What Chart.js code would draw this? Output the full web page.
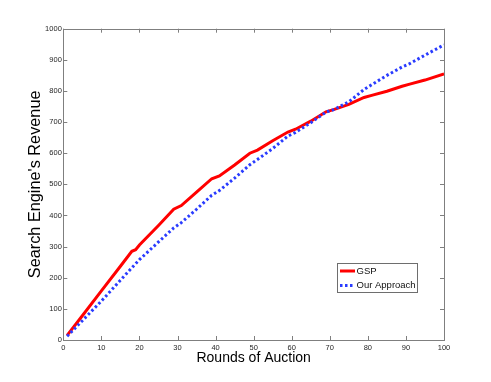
<!DOCTYPE html>
<html>
<head>
<meta charset="utf-8">
<script src="https://cdn.jsdelivr.net/npm/chart.js@4/dist/chart.umd.min.js"></script>
<style>
  html, body { margin: 0; padding: 0; background: #ffffff; }
  #wrap { width: 491px; height: 382px; }
</style>
</head>
<body>
<div id="wrap"><canvas id="c" width="491" height="382"></canvas></div>
<script>
// ---- data ----
const rounds = [1, 5, 10, 15, 18, 19, 20, 25, 29, 31, 35, 39, 41, 45, 49, 51, 55, 59, 61, 65, 69, 71, 75, 79, 81, 85, 89, 91, 95, 100];
const gsp = [15, 78, 158, 237, 285, 290, 305, 368, 420, 432, 475, 518, 527, 562, 600, 610, 640, 668, 677, 703, 733, 740, 757, 779, 786, 799, 815, 822, 835, 855];
const ourApproach = [12, 62, 125, 192, 232, 245, 258, 315, 360, 377, 420, 465, 480, 520, 563, 580, 615, 655, 667, 698, 732, 740, 765, 805, 820, 850, 877, 888, 915, 948];
const xTicks = [0, 10, 20, 30, 40, 50, 60, 70, 80, 90, 100];
const yTicks = [0, 100, 200, 300, 400, 500, 600, 700, 800, 900, 1000];
const seriesNames = ["GSP", "Our Approach"];
const xTitle = "Rounds of Auction";
const yTitle = "Search Engine's Revenue";

const toPts = (xs, ys) => xs.map((x, i) => ({ x: x, y: ys[i] }));

const FRAME = '#7f7f7f';
const RED = '#ff0000';
const BLUE = '#2a3cff';

const framePlugin = {
  id: 'frameTicks',
  afterDraw(chart) {
    const { ctx, chartArea: a, scales } = chart;
    const xs = scales.x, ys = scales.y;
    ctx.save();
    ctx.strokeStyle = FRAME;
    ctx.lineWidth = 1;
    ctx.beginPath();
    const L = 4;
    xTicks.forEach(v => {
      const px = Math.round(xs.getPixelForValue(v)) + 0.5;
      ctx.moveTo(px, a.bottom); ctx.lineTo(px, a.bottom - L);
      ctx.moveTo(px, a.top); ctx.lineTo(px, a.top + L);
    });
    yTicks.forEach(v => {
      const py = Math.round(ys.getPixelForValue(v)) + 0.5;
      ctx.moveTo(a.left, py); ctx.lineTo(a.left + L, py);
      ctx.moveTo(a.right, py); ctx.lineTo(a.right - L, py);
    });
    ctx.stroke();
    ctx.strokeRect(Math.round(a.left) + 0.5, Math.round(a.top) + 0.5,
                   Math.round(a.right - a.left), Math.round(a.bottom - a.top));

    // legend box inside plot area
    const lx = 337.5, ly = 263.5, lw = 80, lh = 29;
    ctx.fillStyle = '#ffffff';
    ctx.fillRect(lx, ly, lw, lh);
    ctx.strokeStyle = '#6e6e6e';
    ctx.strokeRect(lx, ly, lw, lh);
    const rows = [
      { name: seriesNames[0], color: RED, dash: [], y: 271 },
      { name: seriesNames[1], color: BLUE, dash: [2.5, 2.5], y: 285.5 }
    ];
    rows.forEach(r => {
      ctx.save();
      ctx.strokeStyle = r.color;
      ctx.lineWidth = 3;
      ctx.setLineDash(r.dash);
      ctx.beginPath();
      ctx.moveTo(340, r.y); ctx.lineTo(355, r.y);
      ctx.stroke();
      ctx.restore();
      ctx.fillStyle = '#111111';
      ctx.font = '9.5px "Liberation Sans", Arial, sans-serif';
      ctx.textBaseline = 'middle';
      ctx.textAlign = 'left';
      ctx.fillText(r.name, 356.5, r.y);
    });
    ctx.restore();
  }
};

new Chart(document.getElementById('c'), {
  type: 'line',
  data: {
    datasets: [
      {
        label: seriesNames[0],
        data: toPts(rounds, gsp),
        borderColor: RED,
        borderWidth: 3,
        pointRadius: 0,
        tension: 0,
        fill: false,
        order: 1
      },
      {
        label: seriesNames[1],
        data: toPts(rounds, ourApproach),
        borderColor: BLUE,
        borderWidth: 3,
        borderDash: [2.5, 2.5],
        pointRadius: 0,
        tension: 0,
        fill: false,
        order: 0
      }
    ]
  },
  options: {
    responsive: false,
    animation: false,
    devicePixelRatio: 1,
    layout: { padding: { left: 0, right: 47, top: 28.7, bottom: 0 } },
    plugins: { legend: { display: false }, tooltip: { enabled: false } },
    scales: {
      x: {
        type: 'linear',
        min: 0, max: 100,
        afterBuildTicks: s => { s.ticks = xTicks.map(v => ({ value: v })); },
        afterFit: s => { s.height = 42; },
        grid: { display: false, drawTicks: false },
        border: { display: false },
        ticks: {
          padding: 3,
          maxRotation: 0,
          autoSkip: false,
          color: '#262626',
          callback: v => String(v),
          font: { family: '"Liberation Sans", Arial, sans-serif', size: 7.5 }
        },
        title: {
          display: true,
          text: xTitle,
          color: '#000000',
          padding: { top: 0, bottom: 15.6 },
          font: { family: '"Liberation Sans", Arial, sans-serif', size: 14 }
        }
      },
      y: {
        type: 'linear',
        min: 0, max: 1000,
        afterBuildTicks: s => { s.ticks = yTicks.map(v => ({ value: v })); },
        afterFit: s => { s.width = 63.3; },
        grid: { display: false, drawTicks: false },
        border: { display: false },
        ticks: {
          padding: 1.5,
          autoSkip: false,
          color: '#262626',
          callback: v => String(v),
          font: { family: '"Liberation Sans", Arial, sans-serif', size: 7.5 }
        },
        title: {
          display: true,
          text: yTitle,
          color: '#000000',
          padding: { top: 25.4, bottom: 0 },
          font: { family: '"Liberation Sans", Arial, sans-serif', size: 16.3 }
        }
      }
    }
  },
  plugins: [framePlugin]
});
</script>
</body>
</html>
